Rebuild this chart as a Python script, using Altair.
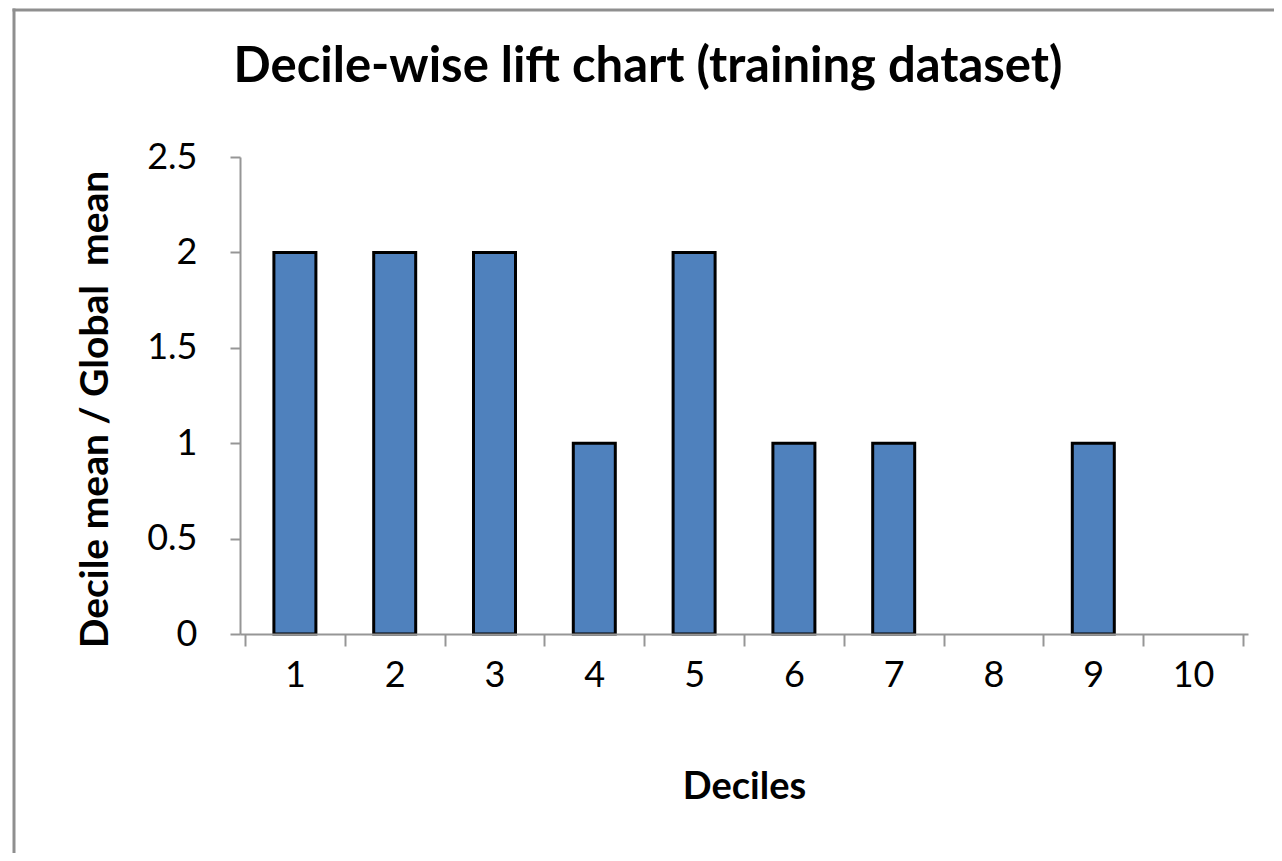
import altair as alt
import pandas as pd

deciles = [1, 2, 3, 4, 5, 6, 7, 8, 9, 10]
lift = [2, 2, 2, 1, 2, 1, 1, 0, 1, 0]
x_tick_values = [0.5, 1, 1.5, 2, 2.5, 3, 3.5, 4, 4.5, 5, 5.5, 6, 6.5, 7, 7.5, 8, 8.5, 9, 9.5, 10, 10.5]
y_tick_values = [0, 0.5, 1, 1.5, 2, 2.5]

df = pd.DataFrame({"Decile": deciles, "Lift": lift})

FONT = "Lato"
AXIS_GRAY = "#969696"
FRAME_GRAY = "#8f8f8f"

x_scale = alt.Scale(domain=[0.5, 10.5], nice=False, zero=False)
y_scale = alt.Scale(domain=[0, 2.5], nice=False)

x_axis = alt.Axis(
    values=x_tick_values,
    labelExpr="datum.value % 1 === 0 ? format(datum.value, 'd') : ''",
    tickColor={"condition": {"test": "datum.value % 1 === 0", "value": "transparent"}, "value": AXIS_GRAY},
    tickSize=12,
    tickWidth=2,
    domainColor=AXIS_GRAY,
    domainWidth=2,
    grid=False,
    labelFont=FONT,
    labelFontSize=36,
    labelColor="black",
    labelPadding=40,
    labelBaseline="alphabetic",
    labelFlush=False,
    labelOverlap=False,
    title="Deciles",
    titleFont=FONT,
    titleFontSize=38,
    titleFontWeight="bold",
    titleColor="black",
    titleBaseline="alphabetic",
    titleY=164,
    zindex=1,
)

y_axis = alt.Axis(
    values=y_tick_values,
    format="~g",
    tickSize=10,
    tickWidth=2,
    tickColor=AXIS_GRAY,
    domainColor=AXIS_GRAY,
    domainWidth=2,
    grid=False,
    labelFont=FONT,
    labelFontSize=36,
    labelColor="black",
    labelPadding=33,
    labelFlush=False,
    labelOverlap=False,
    title="Decile mean / Global\u00a0 mean",
    titleFont=FONT,
    titleFontSize=39,
    titleFontWeight="bold",
    titleColor="black",
    titleAngle=270,
    titleBaseline="alphabetic",
    titleAlign="center",
    titleX=-133,
    titleY=252,
    zindex=1,
)

bars = alt.Chart(df).transform_filter("datum.Lift > 0").mark_bar(
    size=42, color="#4F81BD", stroke="black", strokeWidth=3
).encode(
    x=alt.X("Decile:Q", scale=x_scale, axis=x_axis),
    y=alt.Y("Lift:Q", scale=y_scale, axis=y_axis),
)

one = pd.DataFrame({"f": [0]})
frame_left = alt.Chart(one).mark_rule(color=FRAME_GRAY, strokeWidth=3).encode(
    x=alt.value(-226), y=alt.value(-148.5), y2=alt.value(900),
)
frame_top = alt.Chart(one).mark_rule(color=FRAME_GRAY, strokeWidth=3).encode(
    x=alt.value(-227.5), x2=alt.value(1300), y=alt.value(-147),
)

chart = alt.layer(frame_left, frame_top, bars).properties(
    width=1008,
    height=477,
    background="white",
    title=alt.TitleParams(
        "Decile-wise lift chart (training dataset)",
        font=FONT,
        fontSize=49,
        fontWeight="bold",
        color="black",
        anchor="middle",
        frame="group",
        dx=-96,
        baseline="alphabetic",
        offset=-124,
    ),
    autosize=alt.AutoSizeParams(type="none"),
    padding={"left": 232, "top": 149, "right": 26, "bottom": 219},
).configure(
    view=alt.ViewConfig(stroke="transparent", strokeWidth=0),
    style={"cell": {"stroke": "transparent", "strokeWidth": 0}},
)

chart.save("out.html", embed_options={"renderer": "svg", "actions": False})
